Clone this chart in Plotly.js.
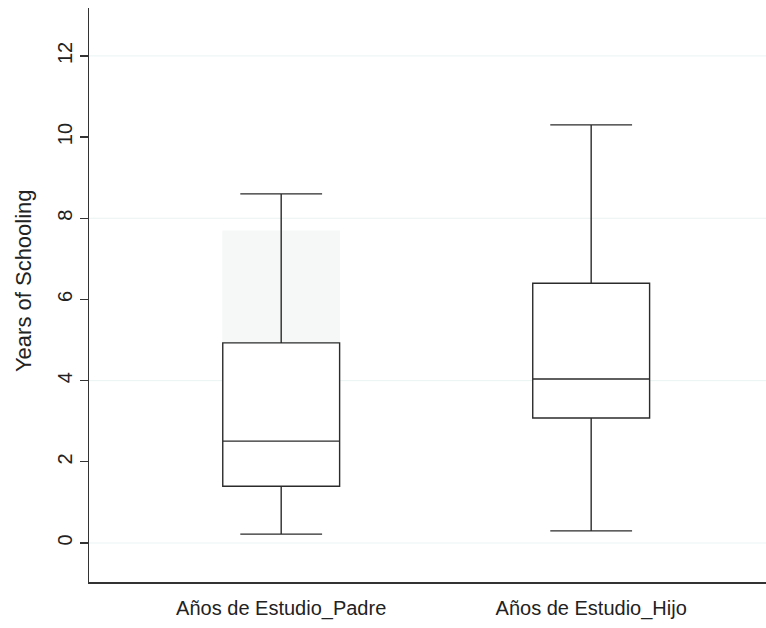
<!DOCTYPE html>
<html>
<head>
<meta charset="utf-8">
<script src="https://cdn.plot.ly/plotly-3.0.1.min.js"></script>
<style>html,body{margin:0;padding:0;background:#fff;}#chart{width:766px;height:628px;}</style>
</head>
<body>
<div id="chart"></div>
<script>
// Data
const categories = ["Años de Estudio_Padre", "Años de Estudio_Hijo"];
const lowerWhisker = [0.22, 0.30];
const q1Values = [1.40, 3.08];
const medianValues = [2.51, 4.04];
const q3Values = [4.93, 6.40];
const upperWhisker = [8.60, 10.30];
const yTickValues = [0, 2, 4, 6, 8, 10, 12];
const gridValues = [0, 4, 8, 12];
const yTitle = "Years of Schooling";

const trace = {
  type: "box",
  x: categories,
  lowerfence: lowerWhisker,
  q1: q1Values,
  median: medianValues,
  q3: q3Values,
  upperfence: upperWhisker,
  fillcolor: "#ffffff",
  line: {color: "#2b2b2b", width: 1.4},
  width: 0.377,
  whiskerwidth: 0.7,
  boxpoints: false,
  hoverinfo: "skip",
  showlegend: false
};

const shapes = gridValues.map(v => ({
  type: "line", xref: "paper", x0: 0, x1: 1, yref: "y", y0: v, y1: v,
  line: {color: "#eaf3f3", width: 1}, layer: "below"
}));
// faint shaded artifact behind the first box
shapes.push({
  type: "rect", xref: "x", yref: "y",
  x0: -0.19, x1: 0.19, y0: 4.15, y1: 7.7,
  fillcolor: "#f6f8f8", line: {width: 0}, layer: "below"
});

const layout = {
  width: 766, height: 628,
  margin: {l: 89, r: 0, t: 8, b: 46},
  paper_bgcolor: "#ffffff",
  plot_bgcolor: "#ffffff",
  font: {family: "Liberation Sans, Arial, sans-serif", color: "#222"},
  xaxis: {
    type: "category",
    range: [-0.62, 1.564],
    showgrid: false,
    zeroline: false,
    showline: true,
    linecolor: "#333",
    linewidth: 1.5,
    ticks: "",
    ticklabelstandoff: 7,
    tickfont: {size: 20, color: "#222"},
    fixedrange: true
  },
  yaxis: {
    range: [-0.96, 13.18],
    tickvals: yTickValues,
    ticktext: yTickValues.map(String),
    tickangle: -90,
    ticks: "outside",
    ticklen: 8,
    tickcolor: "#333",
    tickwidth: 1.2,
    showgrid: false,
    zeroline: false,
    showline: true,
    linecolor: "#333",
    linewidth: 1.5,
    tickfont: {size: 20, color: "#222"},
    fixedrange: true
  },
  annotations: [{
    text: yTitle, textangle: -90, showarrow: false,
    xref: "paper", yref: "paper", x: -0.0975, y: 0.526,
    xanchor: "center", yanchor: "middle",
    font: {size: 22, color: "#222"}
  }],
  shapes: shapes
};

Plotly.newPlot("chart", [trace], layout, {displayModeBar: false, staticPlot: true});
</script>
</body>
</html>
